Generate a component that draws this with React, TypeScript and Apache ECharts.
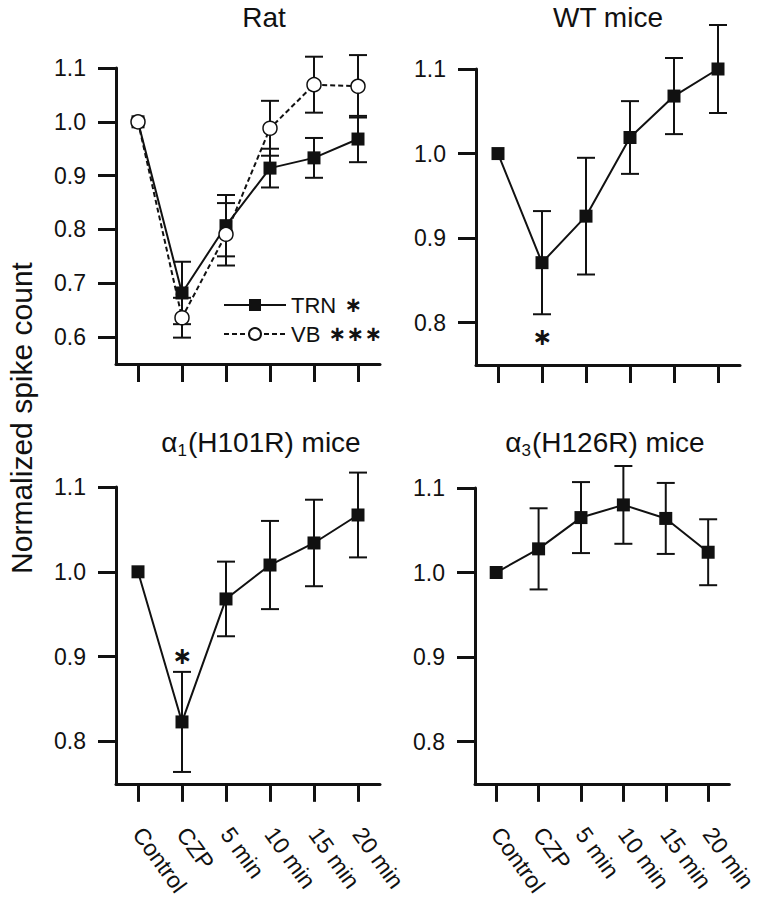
import React, { useEffect, useRef } from 'react';
import * as echarts from 'echarts';

const categories = ['Control', 'CZP', '5 min', '10 min', '15 min', '20 min'];

// Rat panel
const ratTRN = [1.0, 0.682, 0.807, 0.914, 0.933, 0.968];
const ratTRNErr = [0, 0.058, 0.057, 0.036, 0.037, 0.043];
const ratVB = [1.0, 0.636, 0.791, 0.988, 1.069, 1.066];
const ratVBErr = [0, 0.037, 0.058, 0.051, 0.052, 0.058];

// WT mice
const wtMice = [1.0, 0.871, 0.926, 1.019, 1.068, 1.1];
const wtMiceErr = [0, 0.061, 0.069, 0.043, 0.045, 0.052];

// alpha1(H101R) mice
const a1Mice = [1.0, 0.823, 0.968, 1.008, 1.034, 1.067];
const a1MiceErr = [0, 0.059, 0.044, 0.052, 0.051, 0.05];

// alpha3(H126R) mice
const a3Mice = [1.0, 1.028, 1.065, 1.08, 1.064, 1.024];
const a3MiceErr = [0, 0.048, 0.042, 0.046, 0.042, 0.039];

// significance stars [category index, value]
const wtStar = [1, 0.783];
const a1Star = [1, 0.901];

const ratTicks = [0.6, 0.7, 0.8, 0.9, 1.0, 1.1];
const miceTicks = [0.8, 0.9, 1.0, 1.1];

const INK = '#111';
const FONT = '"Liberation Sans", Arial, Helvetica, sans-serif';
const STAR = '\u2217';

function errSeries(idx: number, vals: number[], errs: number[]) {
  const data: number[][] = [];
  vals.forEach((v, k) => {
    if (errs[k] > 0) data.push([k, v - errs[k], v + errs[k]]);
  });
  return {
    type: 'custom',
    xAxisIndex: idx,
    yAxisIndex: idx,
    clip: false,
    silent: true,
    z: 2,
    data,
    encode: { x: 0, y: [1, 2] },
    renderItem: (_params: any, api: any) => {
      const lo = api.coord([api.value(0), api.value(1)]);
      const hi = api.coord([api.value(0), api.value(2)]);
      const hw = 9;
      const st = { stroke: INK, lineWidth: 2 };
      return {
        type: 'group',
        children: [
          { type: 'line', shape: { x1: lo[0], y1: lo[1], x2: hi[0], y2: hi[1] }, style: st },
          { type: 'line', shape: { x1: lo[0] - hw, y1: lo[1], x2: lo[0] + hw, y2: lo[1] }, style: st },
          { type: 'line', shape: { x1: hi[0] - hw, y1: hi[1], x2: hi[0] + hw, y2: hi[1] }, style: st },
        ],
      };
    },
  };
}

function squareLine(idx: number, name: string, vals: number[]) {
  return {
    type: 'line',
    name,
    xAxisIndex: idx,
    yAxisIndex: idx,
    data: vals,
    clip: false,
    z: 3,
    symbol: 'rect',
    symbolSize: 13,
    itemStyle: { color: INK },
    lineStyle: { color: INK, width: 2 },
  };
}

function starSeries(idx: number, pt: number[]) {
  return {
    type: 'scatter',
    xAxisIndex: idx,
    yAxisIndex: idx,
    data: [pt],
    symbolSize: 2,
    clip: false,
    z: 5,
    itemStyle: { color: 'rgba(0,0,0,0)', opacity: 1 },
    label: {
      show: true,
      position: 'inside',
      formatter: STAR,
      fontSize: 24,
      fontWeight: 'bold',
      fontFamily: '"DejaVu Sans", sans-serif',
      color: INK,
      opacity: 1,
    },
  };
}

function xAxis(idx: number, showLabels: boolean) {
  return {
    type: 'category',
    gridIndex: idx,
    data: categories,
    boundaryGap: true,
    axisLine: { show: true, onZero: false, lineStyle: { color: INK, width: 3 } },
    axisTick: { show: true, alignWithLabel: true, length: 18, lineStyle: { color: INK, width: 3 } },
    axisLabel: {
      show: showLabels,
      rotate: -54,
      margin: 46,
      fontSize: 23,
      color: INK,
      fontFamily: FONT,
      interval: 0,
    },
    splitLine: { show: false },
  };
}

function yAxis(idx: number, min: number, ticks: number[]) {
  return {
    type: 'value',
    gridIndex: idx,
    min,
    max: 1.1,
    axisLine: { show: true, onZero: false, lineStyle: { color: INK, width: 3 } },
    axisTick: { show: true, length: 18, customValues: ticks, lineStyle: { color: INK, width: 3 } },
    axisLabel: {
      show: true,
      customValues: ticks,
      margin: 30,
      fontSize: 23,
      color: INK,
      fontFamily: FONT,
      formatter: (v: number) => v.toFixed(1),
    },
    splitLine: { show: false },
  };
}

export default function App() {
  const ref = useRef<HTMLDivElement>(null);
  useEffect(() => {
    if (!ref.current) return;
    const chart = echarts.init(ref.current, undefined, { renderer: 'svg' });
    const titleStyle = {
      fontSize: 28,
      fontFamily: FONT,
      fill: INK,
      textAlign: 'center',
      textVerticalAlign: 'middle',
    };
    const alphaRich = {
      a: { fontSize: 28, fontFamily: FONT, color: INK },
      s: { fontSize: 17, fontFamily: FONT, color: INK, padding: [16, 1, 0, 0] },
    };
    chart.setOption({
      animation: false,
      backgroundColor: '#fff',
      grid: [
        { left: 116, top: 68, width: 264, height: 296 },
        { left: 476, top: 69, width: 264, height: 296 },
        { left: 116, top: 487, width: 264, height: 297 },
        { left: 475, top: 488, width: 264, height: 296 },
      ],
      xAxis: [xAxis(0, false), xAxis(1, false), xAxis(2, true), xAxis(3, true)],
      yAxis: [
        yAxis(0, 0.55, ratTicks),
        yAxis(1, 0.75, miceTicks),
        yAxis(2, 0.75, miceTicks),
        yAxis(3, 0.75, miceTicks),
      ],
      legend: {
        data: ['TRN', 'VB'],
        orient: 'vertical',
        left: 223,
        top: 294,
        padding: 0,
        itemWidth: 62,
        itemHeight: 15,
        itemGap: 7,
        selectedMode: false,
        textStyle: {
          fontSize: 22,
          fontFamily: FONT,
          color: INK,
          rich: {
            t: { fontSize: 22, fontFamily: FONT, color: INK },
            s: {
              fontSize: 21,
              fontWeight: 'bold',
              fontFamily: '"DejaVu Sans", sans-serif',
              color: INK,
              width: 18,
              align: 'center',
            },
            g: { width: 8 },
          },
        },
        formatter: (name: string) =>
          name === 'TRN'
            ? '{t|TRN}{g|}{s|' + STAR + '}'
            : '{t|VB}{g|}{s|' + STAR + '}{s|' + STAR + '}{s|' + STAR + '}',
      },
      graphic: [
        { type: 'text', x: 264, y: 17, style: { ...titleStyle, text: 'Rat' } },
        { type: 'text', x: 608, y: 17, style: { ...titleStyle, text: 'WT mice' } },
        {
          type: 'text',
          x: 261,
          y: 442,
          style: { ...titleStyle, text: '{a|α}{s|1}{a|(H101R) mice}', rich: alphaRich },
        },
        {
          type: 'text',
          x: 605,
          y: 442,
          style: { ...titleStyle, text: '{a|α}{s|3}{a|(H126R) mice}', rich: alphaRich },
        },
        {
          type: 'text',
          x: 21,
          y: 418,
          rotation: Math.PI / 2,
          style: {
            text: 'Normalized spike count',
            fontSize: 30,
            fontFamily: FONT,
            fill: INK,
            textAlign: 'center',
            textVerticalAlign: 'middle',
          },
        },
      ],
      series: [
        errSeries(0, ratTRN, ratTRNErr),
        errSeries(0, ratVB, ratVBErr),
        squareLine(0, 'TRN', ratTRN),
        {
          type: 'line',
          name: 'VB',
          xAxisIndex: 0,
          yAxisIndex: 0,
          data: ratVB,
          clip: false,
          z: 4,
          symbol: 'circle',
          symbolSize: 14,
          itemStyle: { color: '#fff', borderColor: INK, borderWidth: 1.5 },
          lineStyle: { color: INK, width: 2, type: [5, 3] },
        },
        errSeries(1, wtMice, wtMiceErr),
        squareLine(1, 'WT', wtMice),
        starSeries(1, wtStar),
        errSeries(2, a1Mice, a1MiceErr),
        squareLine(2, 'a1', a1Mice),
        starSeries(2, a1Star),
        errSeries(3, a3Mice, a3MiceErr),
        squareLine(3, 'a3', a3Mice),
      ],
    });
    return () => chart.dispose();
  }, []);
  return (
    <div
      ref={ref}
      style={{ position: 'absolute', left: 0, top: 0, width: 759, height: 899, background: '#fff' }}
    />
  );
}
